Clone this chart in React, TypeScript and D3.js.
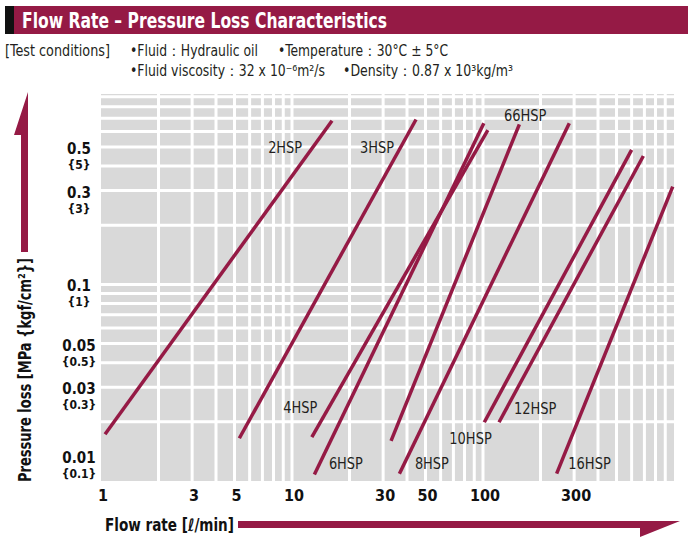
import React from "react";
import * as d3 from "d3";

// chart values
const flowTicks = [1, 3, 5, 10, 30, 50, 100, 300];
const lossTicks = [0.5, 0.3, 0.1, 0.05, 0.03, 0.01];
const kgfTicks = ["{5}", "{3}", "{1}", "{0.5}", "{0.3}", "{0.1}"];

const models = ["2HSP", "3HSP", "4HSP", "6HSP", "66HSP", "8HSP", "10HSP", "12HSP", "16HSP"];
const flowStart = [1.05, 5.3, 12.7, 13.1, 33, 36.5, 101.6, 121.3, 243];
const lossStart = [0.0173, 0.0165, 0.0167, 0.0108, 0.016, 0.0109, 0.0199, 0.0199, 0.0109];
const flowEnd = [16.2, 44.6, 106, 101, 155, 283, 600, 691, 985];
const lossEnd = [0.68, 0.69, 0.61, 0.66, 0.652, 0.66, 0.483, 0.45, 0.314];
// where each model name sits (flow, loss)
const labelFlow = [7.5, 22.7, 9.0, 15.6, 128.8, 44.0, 66.6, 145.3, 279.6];
const labelLoss = [0.466, 0.466, 0.0222, 0.0115, 0.674, 0.0115, 0.0155, 0.0219, 0.0115];

const RED = "#951a45";
const INK = "#231f20";
const NARROW = '"Liberation Sans Narrow", "DejaVu Sans Condensed", "Roboto Condensed", sans-serif';

export default function App() {
  const left = 101, right = 674, top = 94, bottom = 481;

  const x = d3.scaleLog().domain([1, 1000]).range([left, right]);
  const y = d3.scaleLog().domain([0.01, 0.93]).range([bottom, top]);

  // minor grid: every 1-9 step in each decade
  const vLines: number[] = [];
  [1, 10, 100].forEach((dec) => d3.range(1, 10).forEach((k) => vLines.push(k * dec)));
  const hLines: number[] = [];
  [0.01, 0.1].forEach((dec) => d3.range(1, 10).forEach((k) => hLines.push(k * dec)));

  const line = d3
    .line<[number, number]>()
    .x((d) => x(d[0]))
    .y((d) => y(d[1]));

  return (
    <svg
      width={688}
      height={540}
      style={{ position: "fixed", left: 0, top: 0, background: "#fff" }}
      fontFamily={NARROW}
    >
      {/* header band */}
      <rect x={5} y={6} width={683} height={28} fill={RED} />
      <rect x={5} y={6} width={9} height={28} fill="#111" />
      <text x={22} y={28} fill="#fff" fontSize={22} fontWeight="bold" textLength={365} lengthAdjust="spacingAndGlyphs">
        Flow Rate – Pressure Loss Characteristics
      </text>

      {/* test conditions */}
      <g fill={INK} fontSize={15}>
        <text x={5} y={56} textLength={105} lengthAdjust="spacingAndGlyphs">[Test conditions]</text>
        <text x={130} y={56} textLength={128} lengthAdjust="spacingAndGlyphs">•Fluid：Hydraulic oil</text>
        <text x={278} y={56} textLength={170} lengthAdjust="spacingAndGlyphs">•Temperature：30°C ± 5°C</text>
        <text x={130} y={76} textLength={195} lengthAdjust="spacingAndGlyphs">
          •Fluid viscosity：32 x 10⁻⁶m²/s
        </text>
        <text x={343} y={76} textLength={170} lengthAdjust="spacingAndGlyphs">
          •Density：0.87 x 10³kg/m³
        </text>
      </g>

      {/* plot background and grid */}
      <rect x={left} y={top} width={right - left} height={bottom - top} fill="#d9d9d9" />
      <g stroke="#fff" strokeWidth={3}>
        {vLines
          .filter((v) => v > 1 && v < 1000)
          .map((v) => (
            <line key={"v" + v} x1={x(v)} x2={x(v)} y1={top} y2={bottom} />
          ))}
        {hLines
          .filter((v) => v > 0.01 && y(v) > top + 2)
          .map((v) => (
            <line key={"h" + v} x1={left} x2={right} y1={y(v)} y2={y(v)} />
          ))}
      </g>

      {/* model curves */}
      <g fill="none" stroke={RED} strokeWidth={3.5}>
        {models.map((m, i) => (
          <path
            key={m}
            d={line([
              [flowStart[i], lossStart[i]],
              [flowEnd[i], lossEnd[i]],
            ]) as string}
          />
        ))}
      </g>
      <g fill={INK} fontSize={16}>
        {models.map((m, i) => (
          <text
            key={m}
            x={x(labelFlow[i])}
            y={y(labelLoss[i])}
            textLength={m.length * 8.5}
            lengthAdjust="spacingAndGlyphs"
          >
            {m}
          </text>
        ))}
      </g>

      {/* x tick labels */}
      <g fill="#111" fontSize={16} fontWeight="bold" textAnchor="middle">
        {flowTicks.map((t) => (
          <text key={t} x={x(t) + 2} y={501}>
            {t}
          </text>
        ))}
      </g>

      {/* y tick labels: MPa with kgf/cm2 below */}
      <g fill="#111" fontWeight="bold" textAnchor="middle">
        {lossTicks.map((t, i) => {
          const cy = Math.min(y(t) + 3, bottom - 22);
          return (
            <g key={t}>
              <text x={79} y={cy + 4} fontSize={15}>
                {t}
              </text>
              <text x={79} y={cy + 19} fontSize={12}>
                {kgfTicks[i]}
              </text>
            </g>
          );
        })}
      </g>

      {/* axis titles with arrows */}
      <text x={105} y={531} fontSize={17} fontWeight="bold" fill="#111" textLength={129} lengthAdjust="spacingAndGlyphs">
        Flow rate [ℓ/min]
      </text>
      <polygon points="238,521 680,521 640,537 640,528 238,528" fill={RED} />

      <text
        transform="translate(31,482) rotate(-90)"
        fontSize={17}
        fontWeight="bold"
        fill="#111"
        textLength={224}
        lengthAdjust="spacingAndGlyphs"
      >
        Pressure loss [MPa {"{kgf/cm²}]"}
      </text>
      <polygon points="28,92 28,252 21,252 21,135 14,135" fill={RED} />
    </svg>
  );
}
